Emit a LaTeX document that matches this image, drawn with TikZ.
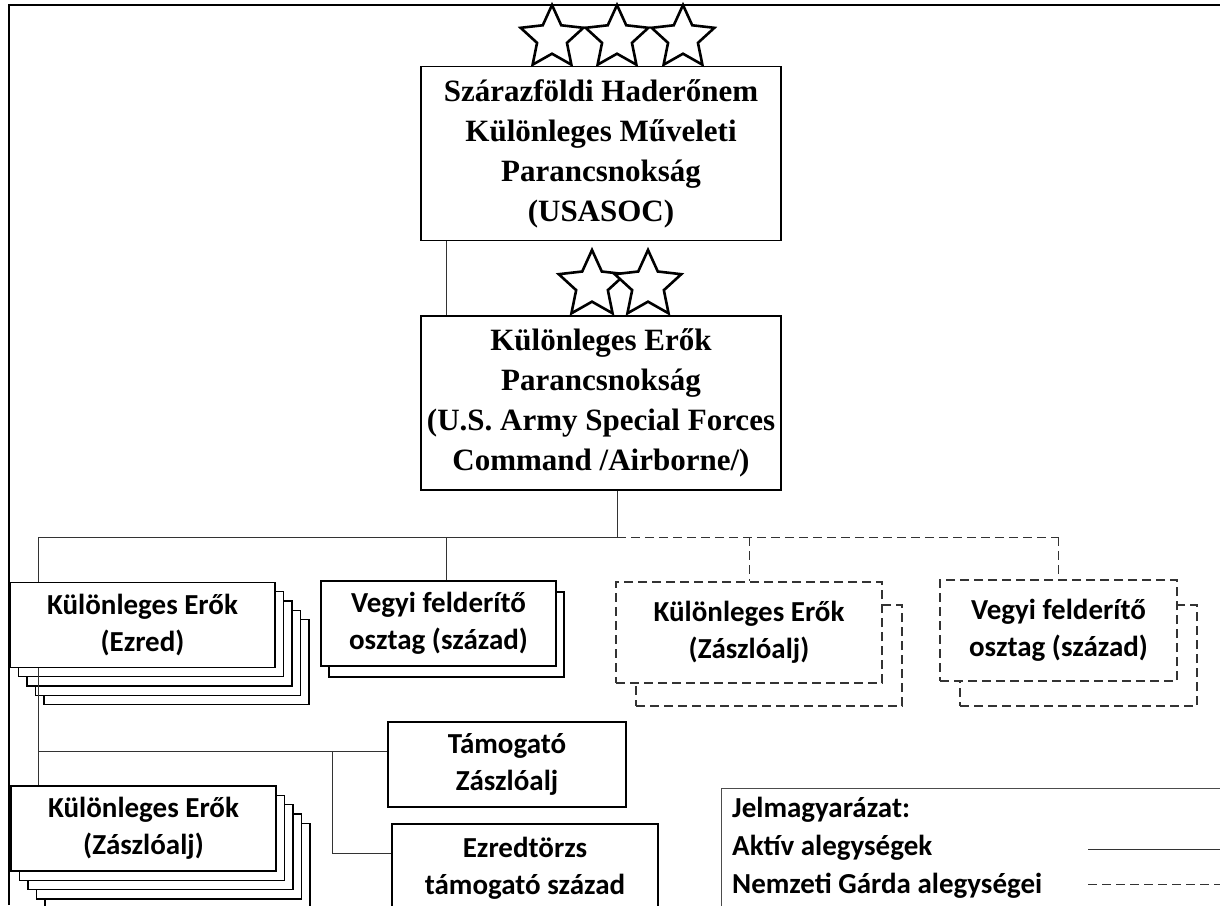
\documentclass[tikz,border=0pt]{standalone}
\usepackage{fontspec}
\setmainfont{Liberation Serif}
\setsansfont{Carlito}
\usepackage{tikz}
\usetikzlibrary{shapes.geometric, calc}
\tikzstyle{command} = [rectangle, minimum width=360pt, minimum height=174pt, inner sep=0pt, align=center, draw=black, line width=1.3pt, fill=white, font=\bfseries\fontsize{31}{40}\selectfont]
\tikzstyle{unit} = [rectangle, minimum width=265pt, minimum height=85pt, inner sep=0pt, align=center, draw=black, line width=1.3pt, fill=white, font=\sffamily\bfseries\fontsize{29}{37}\selectfont]
\tikzstyle{guard} = [unit, draw=black!80, dash pattern=on 9pt off 5pt, minimum height=101pt]
\tikzstyle{insignia} = [star, star points=5, star point ratio=2.1, minimum size=66pt, inner sep=0pt, draw=black, line width=2.6pt, fill=white]
\tikzstyle{line} = [draw=black!80, line width=1pt]
\tikzstyle{guardline} = [line, dash pattern=on 9pt off 5pt]
\tikzstyle{legendtext} = [anchor=west, inner sep=0pt, font=\sffamily\bfseries\fontsize{29}{37}\selectfont]

\begin{document}
\begin{tikzpicture}[x=1pt, y=-1pt, node distance=249.5pt]
		\useasboundingbox (0,0) rectangle (1220,905);
		\clip (0,0) rectangle (1220,905);
		
		% Frame
		\draw[line width=2.5pt] (9,905) -- (9,5) -- (1220,5);
		
		% Nodes
		\node (usasoc) [command] at (601,153.5) {Szárazföldi Haderőnem\\Különleges Műveleti\\Parancsnokság\\(USASOC)};
		\node (sfc) [command, below of=usasoc] {Különleges Erők\\Parancsnokság\\(U.S. Army Special Forces\\Command /Airborne/)};
		
		\foreach \k in {4,3,2,1}
			\node (ezred-\k) [unit] at (142.5+8.5*\k, 625+9.3*\k) {};
		\node (ezred) [unit] at (142.5,625) {Különleges Erők\\(Ezred)};
		
		\node (vegyi-1) [unit, minimum width=235pt] at (446.5,634.5) {};
		\node (vegyi) [unit, minimum width=235pt] at (438.5,623.5) {Vegyi felderítő\\osztag (század)};
		
		\node (ngzaszl-1) [guard, minimum width=266pt] at (769,655.5) {};
		\node (ngzaszl) [guard, minimum width=266pt] at (749,632.5) {Különleges Erők\\(Zászlóalj)};
		
		\node (ngvegyi-1) [guard, minimum width=237pt] at (1078.5,655.5) {};
		\node (ngvegyi) [guard, minimum width=237pt] at (1058.5,630.5) {Vegyi felderítő\\osztag (század)};
		
		\foreach \k in {4,3,2,1}
			\node (zaszl-\k) [unit] at (143.5+8.5*\k, 828.5+9.3*\k) {};
		\node (zaszl) [unit] at (143.5,828.5) {Különleges Erők\\(Zászlóalj)};
		
		\node (tamogato) [unit, minimum width=238pt] at (507,764.5) {Támogató\\Zászlóalj};
		\node (torzs) [unit, minimum width=266pt, minimum height=88pt] at (525,868) {Ezredtörzs\\támogató század};
		
		% Stars
		\foreach \x [count=\i] in {552,617,683}
			\node (gen3-\i) [insignia] at (\x,38) {};
		\foreach \x [count=\i] in {592,648}
			\node (gen2-\i) [insignia, minimum size=70pt] at (\x,285) {};
		
		% Legend
		\node (legend) [rectangle, draw=black!70, line width=1.3pt, anchor=north west, minimum width=520pt, minimum height=140pt] at (721,788) {};
		\node (lgtitle) [legendtext] at (732,810) {Jelmagyarázat:};
		\node (lgactive) [legendtext] at (732,848) {Aktív alegységek};
		\node (lgguard) [legendtext] at (732,886) {Nemzeti Gárda alegységei};
		\coordinate (lga) at (1088,849);
		\coordinate (lgg) at (1088,884);
		\draw [line] (lga) -- (lga -| legend.east);
		\draw [guardline] (lgg) -- (lgg -| legend.east);
		
		% Connectors
		\coordinate (rail) at (617,537);
		\coordinate (spine) at (38,537);
		\coordinate (tap) at (38,751);
		\coordinate (fork) at (332,751);
		
		\draw [line] ([xshift=26pt]usasoc.south west) -- ([xshift=26pt]sfc.north west);
		\draw [line] ([xshift=16pt]sfc.south) -- (rail);
		\draw [line] (rail) -- (spine);
		\draw [line] (spine) -- (spine |- ezred.north);
		\draw [line] ([xshift=8pt]vegyi.north |- rail) -- ([xshift=8pt]vegyi.north);
		\draw [guardline] (rail) -- (rail -| ngvegyi.north);
		\draw [guardline] (rail -| ngzaszl.north) -- (ngzaszl.north);
		\draw [guardline] (rail -| ngvegyi.north) -- (ngvegyi.north);
		\draw [line] (spine |- ezred.south) -- (spine |- zaszl.north);
		\draw [line] (tap) -- (tap -| tamogato.west);
		\draw [line] (fork) |- ([yshift=15pt]torzs.west);
		
	\end{tikzpicture}
\end{document}
